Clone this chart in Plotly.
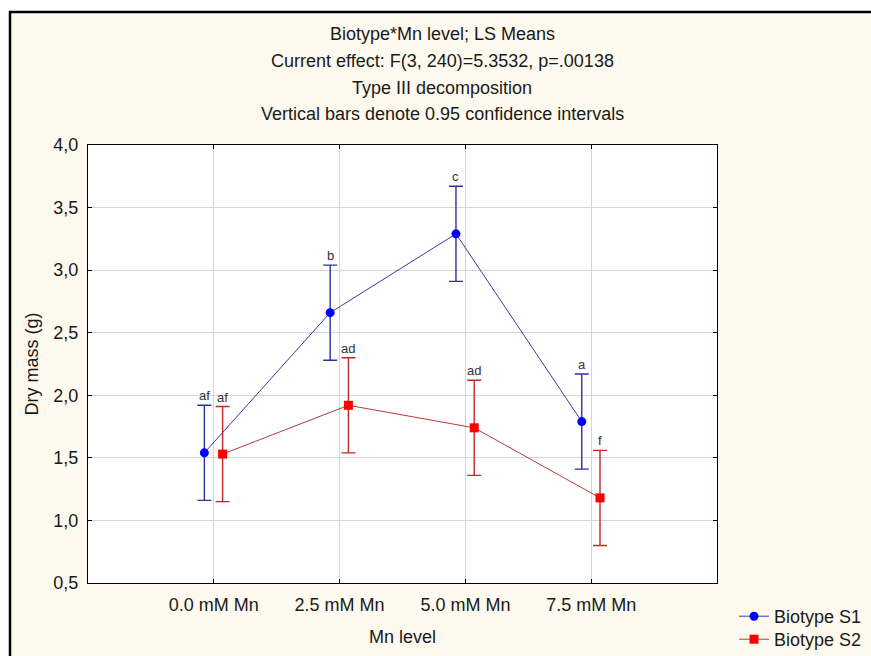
import plotly.graph_objects as go

# ---- data ----
categories = ["0.0 mM Mn", "2.5 mM Mn", "5.0 mM Mn", "7.5 mM Mn"]
s1_mean = [1.54, 2.66, 3.29, 1.79]
s1_ci = [0.38, 0.38, 0.38, 0.38]
s1_letters = ["af", "b", "c", "a"]
s2_mean = [1.53, 1.92, 1.74, 1.18]
s2_ci = [0.38, 0.38, 0.38, 0.38]
s2_letters = ["af", "ad", "ad", "f"]
y_tickvals = [0.5, 1.0, 1.5, 2.0, 2.5, 3.0, 3.5, 4.0]
y_ticktext = ["0,5", "1,0", "1,5", "2,0", "2,5", "3,0", "3,5", "4,0"]
title_lines = [
    "Biotype*Mn level; LS Means",
    "Current effect: F(3, 240)=5.3532, p=.00138",
    "Type III decomposition",
    "Vertical bars denote 0.95 confidence intervals",
]

# ---- style ----
FONT = "Liberation Sans, Arial, sans-serif"
TXT = "#1a1a1a"
CREAM = "#fdf9ee"
OFF1, OFF2 = -0.075, 0.07
W, H = 871, 656
L, R, T, B = 88, 154, 145, 73
PW, PH = W - L - R, H - T - B

def px_to_paper_x(px):
    return (px - L) / PW

def px_to_paper_y(py):
    return (H - B - py) / PH

xpos = list(range(len(categories)))
x1 = [x + OFF1 for x in xpos]
x2 = [x + OFF2 for x in xpos]

fig = go.Figure()
fig.add_trace(go.Scatter(
    x=x1, y=s1_mean, mode="lines+markers", name="Biotype S1",
    legend="legend",
    line=dict(color="#3a3aa8", width=1),
    marker=dict(color="#0000ff", size=9, symbol="circle"),
    error_y=dict(type="data", array=s1_ci, visible=True,
                 color="#30309a", thickness=1.4, width=7),
))
fig.add_trace(go.Scatter(
    x=x2, y=s2_mean, mode="lines+markers", name="Biotype S2",
    legend="legend2",
    line=dict(color="#b83a3a", width=1),
    marker=dict(color="#ff0000", size=9, symbol="square"),
    error_y=dict(type="data", array=s2_ci, visible=True,
                 color="#c02828", thickness=1.4, width=7),
))

annotations = []
for xs, m, c, lab in [(x1, s1_mean, s1_ci, s1_letters), (x2, s2_mean, s2_ci, s2_letters)]:
    for xv, mv, cv, tv in zip(xs, m, c, lab):
        annotations.append(dict(
            x=xv, y=mv + cv, xref="x", yref="y", text=tv, showarrow=False,
            yanchor="bottom", xanchor="center", yshift=0,
            font=dict(family=FONT, size=13, color="#333333"),
        ))

title_y_px = [34, 61, 88, 114]
for txt, ypx in zip(title_lines, title_y_px):
    annotations.append(dict(
        x=px_to_paper_x(442), y=px_to_paper_y(ypx), xref="paper", yref="paper",
        text=txt, showarrow=False, xanchor="center", yanchor="middle",
        font=dict(family=FONT, size=18, color=TXT),
    ))

shapes = [
    # cream outer frame with black border
    dict(type="rect", xref="paper", yref="paper", layer="below",
         x0=px_to_paper_x(10), x1=px_to_paper_x(W + 20),
         y0=px_to_paper_y(H + 20), y1=px_to_paper_y(12),
         fillcolor=CREAM, line=dict(color="black", width=2.5)),
    # white plot area
    dict(type="rect", xref="paper", yref="paper", layer="below",
         x0=0, x1=1, y0=0, y1=1, fillcolor="white", line=dict(width=0)),
]

legend_common = dict(
    xref="container", yref="container", xanchor="left", yanchor="top",
    bgcolor="rgba(0,0,0,0)", borderwidth=0,
    font=dict(family=FONT, size=18, color=TXT), itemwidth=30,
)

fig.update_layout(
    width=W, height=H,
    margin=dict(l=L, r=R, t=T, b=B, pad=0),
    paper_bgcolor="white", plot_bgcolor="white",
    font=dict(family=FONT, size=18, color=TXT),
    showlegend=True,
    legend=dict(x=734 / W, y=1 - 598 / H, **legend_common),
    legend2=dict(x=734 / W, y=1 - 621 / H, **legend_common),
    annotations=annotations,
    shapes=shapes,
)

fig.update_xaxes(
    range=[-1, 4], tickmode="array", tickvals=xpos, ticktext=categories,
    showgrid=True, gridcolor="#d6d6d6", gridwidth=1, zeroline=False,
    showline=True, linecolor="black", linewidth=1, mirror="ticks",
    ticks="inside", ticklen=4, tickcolor="black",
    ticklabelstandoff=5,
    tickfont=dict(family=FONT, size=18, color=TXT),
    title=dict(text="Mn level", standoff=16, font=dict(family=FONT, size=18, color=TXT)),
)
fig.update_yaxes(
    range=[0.5, 4.0], tickmode="array", tickvals=y_tickvals, ticktext=y_ticktext,
    showgrid=True, gridcolor="#d6d6d6", gridwidth=1, zeroline=False,
    showline=True, linecolor="black", linewidth=1, mirror="ticks",
    ticks="inside", ticklen=4, tickcolor="black",
    ticklabelstandoff=5,
    tickfont=dict(family=FONT, size=18, color=TXT),
    title=dict(text="Dry mass (g)", standoff=10, font=dict(family=FONT, size=18, color=TXT)),
)

fig.write_html("out.html")
